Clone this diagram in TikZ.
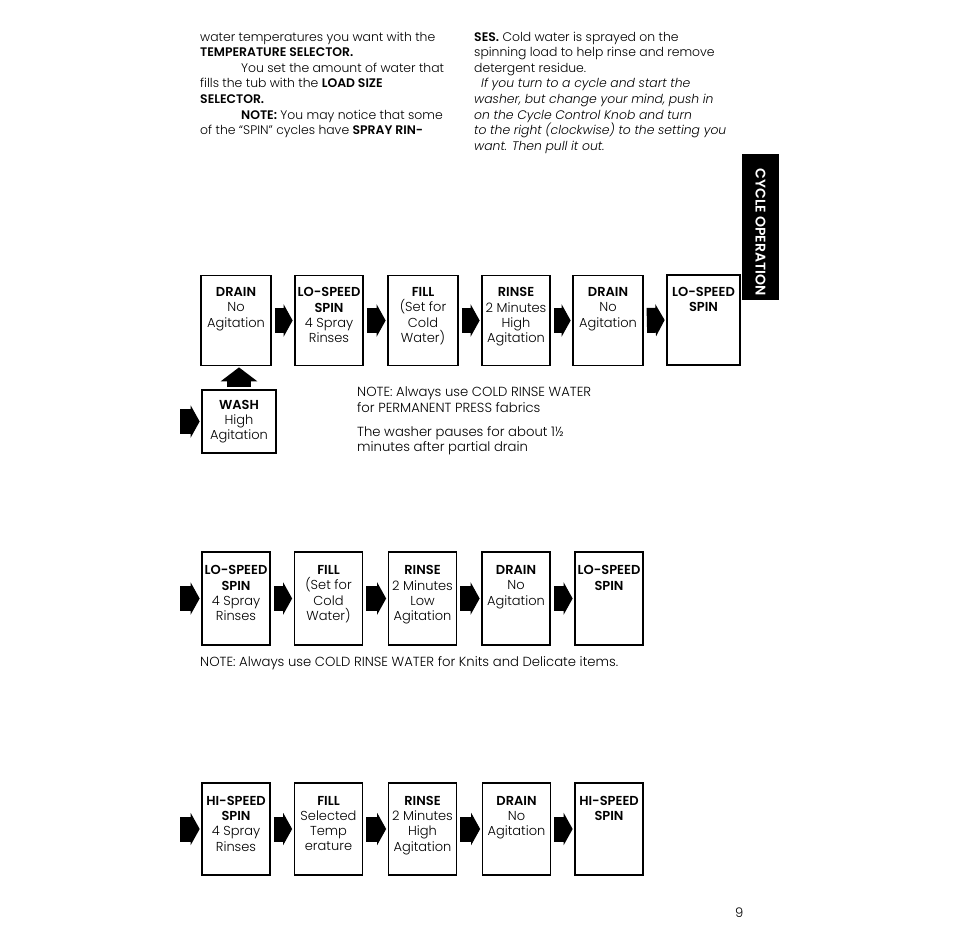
\documentclass[tikz,border=0pt]{standalone}
\usepackage{fontspec}
\setmainfont{Poppins}[UprightFont=* Light, ItalicFont=* Light Italic, BoldFont=* SemiBold]
\usetikzlibrary{arrows.meta}

%% text of a stage box, set from the top
\newcommand{\stagetext}[2][82pt]{\parbox[c][#1][t]{66pt}{\centering\vspace*{8pt}#2}}

\begin{document}
\begin{tikzpicture}[x=1pt, y=-1pt,
  stage/.style={draw, line width=1.7pt, inner sep=0pt, minimum width=70pt, minimum height=90pt, font=\fontsize{13}{15.3}\selectfont},
  flowarrow/.style={line width=25pt, -{Triangle[length=9pt,width=32pt]}, shorten <=3pt, shorten >=1.5pt},
  txt/.style={anchor=base west, inner sep=0pt, font=\fontsize{12.4}{14}\selectfont},
  note/.style={anchor=base west, inner sep=0pt, font=\fontsize{13.2}{14}\selectfont},
  ]
\useasboundingbox (0,0) rectangle (954,930);

%% text on top of the page
\node[txt] (l1) at (200,41)    {water temperatures you want with the};
\node[txt] (l2) at (200,56.6)  {\textbf{TEMPERATURE SELECTOR.}};
\node[txt] (l3) at (241,72.2)  {You set the amount of water that};
\node[txt] (l4) at (200,87.8)  {fills the tub with the \textbf{LOAD SIZE}};
\node[txt] (l5) at (200,103.4) {\textbf{SELECTOR.}};
\node[txt] (l6) at (241,119)   {\textbf{NOTE:} You may notice that some};
\node[txt] (l7) at (200,134.6) {of the ``SPIN'' cycles have \textbf{SPRAY RIN-}};

\node[txt] (r1) at (474,41)    {\textbf{SES.} Cold water is sprayed on the};
\node[txt] (r2) at (474,56.6)  {spinning load to help rinse and remove};
\node[txt] (r3) at (474,72.2)  {detergent residue.};
\node[txt] (r4) at (481,87.8)  {\textit{If you turn to a cycle and start the}};
\node[txt] (r5) at (474,103.4) {\textit{washer, but change your mind, push in}};
\node[txt] (r6) at (474,119)   {\textit{on the Cycle Control Knob and turn}};
\node[txt] (r7) at (474,134.6) {\textit{to the right (clockwise) to the setting you}};
\node[txt] (r8) at (474,150.2) {\textit{want. Then pull it out.}};

%% side tab
\fill (742,154) rectangle (779,300);
\node[text=white, rotate=-90, inner sep=0pt, font=\fontsize{14}{16}\bfseries] (tab) at (760.5,232) {CYCLE OPERATION};

%% first cycle
\node[stage] (drainA)  at (236,320.5) {\stagetext{\textbf{DRAIN}\\No\\Agitation}};
\node[stage, minimum width=68pt] (lospinA) at (329,320.5) {\stagetext{\textbf{LO-SPEED}\\\textbf{SPIN}\\4 Spray\\Rinses}};
\node[stage] (fillA)   at (423,320.5) {\stagetext{\textbf{FILL}\\(Set for\\Cold\\Water)}};
\node[stage, minimum width=68pt] (rinseA)  at (516,320.5) {\stagetext{\textbf{RINSE}\\2 Minutes\\High\\Agitation}};
\node[stage] (drainB)  at (608,320.5) {\stagetext{\textbf{DRAIN}\\No\\Agitation}};
\node[stage, minimum width=73pt] (lospinB) at (703.5,320) {\stagetext{\textbf{LO-SPEED}\\\textbf{SPIN}}};
\node[stage, minimum width=74pt, minimum height=63pt] (wash) at (239,421.5) {\stagetext[59pt]{\textbf{WASH}\\High\\Agitation}};
\coordinate (inA) at (177,421.5);

\draw[flowarrow] (inA) -- (wash.west);
\draw[flowarrow, line width=24pt, -{Triangle[length=14pt,width=36pt]}, shorten <=2pt, shorten >=1pt]
  (wash.north) -- (wash.north |- drainA.south);
\draw[flowarrow] (drainA.east)  -- (lospinA.west);
\draw[flowarrow] (lospinA.east) -- (fillA.west);
\draw[flowarrow] (fillA.east)   -- (rinseA.west);
\draw[flowarrow] (rinseA.east)  -- (drainB.west);
\draw[flowarrow] (drainB.east)  -- (lospinB.west);

\node[note] (n1) at (357,396.5) {NOTE: Always use COLD RINSE WATER};
\node[note] (n2) at (357,412)   {for PERMANENT PRESS fabrics};
\node[note] (n3) at (357,436)   {The washer pauses for about 1½};
\node[note] (n4) at (357,451)   {minutes after partial drain};

%% second cycle
\node[stage, minimum width=68pt, minimum height=93pt] (lospinC) at (236,598.5)   {\stagetext{\textbf{LO-SPEED}\\\textbf{SPIN}\\4 Spray\\Rinses}};
\node[stage, minimum width=68pt, minimum height=93pt] (fillC)   at (328.5,598.5) {\stagetext{\textbf{FILL}\\(Set for\\Cold\\Water)}};
\node[stage, minimum width=68pt, minimum height=93pt] (rinseC)  at (422.5,598.5) {\stagetext{\textbf{RINSE}\\2 Minutes\\Low\\Agitation}};
\node[stage, minimum width=68pt, minimum height=93pt] (drainC)  at (516,598.5)   {\stagetext{\textbf{DRAIN}\\No\\Agitation}};
\node[stage, minimum width=68pt, minimum height=93pt] (lospinD) at (609,598.5)   {\stagetext{\textbf{LO-SPEED}\\\textbf{SPIN}}};
\coordinate (inC) at (177,598.5);

\draw[flowarrow] (inC) -- (lospinC.west);
\draw[flowarrow] (lospinC.east) -- (fillC.west);
\draw[flowarrow] (fillC.east)   -- (rinseC.west);
\draw[flowarrow] (rinseC.east)  -- (drainC.west);
\draw[flowarrow] (drainC.east)  -- (lospinD.west);

\node[note] (n5) at (200,666) {NOTE: Always use COLD RINSE WATER for Knits and Delicate items.};

%% third cycle
\node[stage, minimum width=68pt, minimum height=92pt] (hispinE) at (236,829)   {\stagetext{\textbf{HI-SPEED}\\\textbf{SPIN}\\4 Spray\\Rinses}};
\node[stage, minimum width=68pt, minimum height=92pt] (fillE)   at (328.5,829) {\stagetext{\textbf{FILL}\\Selected\\Temp\\erature}};
\node[stage, minimum width=68pt, minimum height=92pt] (rinseE)  at (422.5,829) {\stagetext{\textbf{RINSE}\\2 Minutes\\High\\Agitation}};
\node[stage, minimum width=68pt, minimum height=92pt] (drainE)  at (516.5,829) {\stagetext{\textbf{DRAIN}\\No\\Agitation}};
\node[stage, minimum width=68pt, minimum height=92pt] (hispinF) at (609,829)   {\stagetext{\textbf{HI-SPEED}\\\textbf{SPIN}}};
\coordinate (inE) at (177,829);

\draw[flowarrow] (inE) -- (hispinE.west);
\draw[flowarrow] (hispinE.east) -- (fillE.west);
\draw[flowarrow] (fillE.east)   -- (rinseE.west);
\draw[flowarrow] (rinseE.east)  -- (drainE.west);
\draw[flowarrow] (drainE.east)  -- (hispinF.west);

%% page number
\node[note] (page) at (735,917) {9};
\end{tikzpicture}
\end{document}
